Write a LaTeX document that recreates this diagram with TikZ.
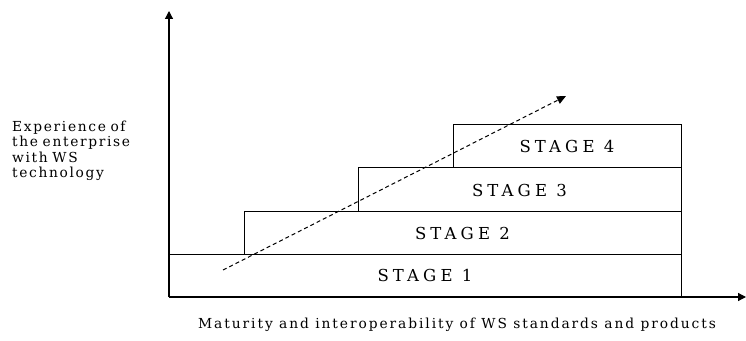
\documentclass[tikz,border=0pt]{standalone}
\usepackage{fontspec}
\setmainfont{DejaVu Serif}[LetterSpace=12]
\usetikzlibrary{arrows.meta}
\begin{document}
\begin{tikzpicture}[x=1pt,y=1pt,
  stagebox/.style={draw=black, line width=1pt, fill=white, inner sep=0pt, outer sep=0pt,
    anchor=south west, font=\fontsize{16.5}{18}\selectfont\addfontfeature{LetterSpace=25}},
  axis/.style={draw=black, line width=1.2pt, -{Triangle[width=8pt,length=8pt]}},
  trend/.style={draw=black, line width=1pt, dash pattern=on 4pt off 3pt, -{Triangle[width=8pt,length=9pt]}},
  lbl/.style={font=\fontsize{13.8}{15.3}\selectfont, inner sep=0pt},
  xlblstyle/.style={font=\fontsize{13.8}{15.3}\selectfont\addfontfeature{LetterSpace=14}, inner sep=0pt}]
\useasboundingbox (0,0) rectangle (746,340);
\coordinate (o) at (169,43);
\coordinate (ytop) at (169,329);
\coordinate (xend) at (746,43);
\node[stagebox, minimum width=512pt, minimum height=43pt] (s1) at (169,43) {STAGE 1};
\node[stagebox, minimum width=437pt, minimum height=42pt] (s2) at (244,86) {STAGE 2};
\node[stagebox, minimum width=323pt, minimum height=44pt] (s3) at (358,128) {STAGE 3};
\node[stagebox, minimum width=228pt, minimum height=43pt] (s4) at (453,172) {STAGE 4};
\draw[axis] (o) -- (ytop);
\draw[axis] (o) -- (xend);
\coordinate (ts) at (223,70);
\coordinate (te) at (566,244);
\draw[trend] (ts) -- (te);
\node[lbl, align=left, anchor=north west, text width=155pt] (ylbl) at (12,219)
  {Experience of\\the enterprise\\with WS\\technology};
\node[xlblstyle, anchor=center] (xlbl) at (457,15) {Maturity and interoperability of WS standards and products};
\end{tikzpicture}
\end{document}
